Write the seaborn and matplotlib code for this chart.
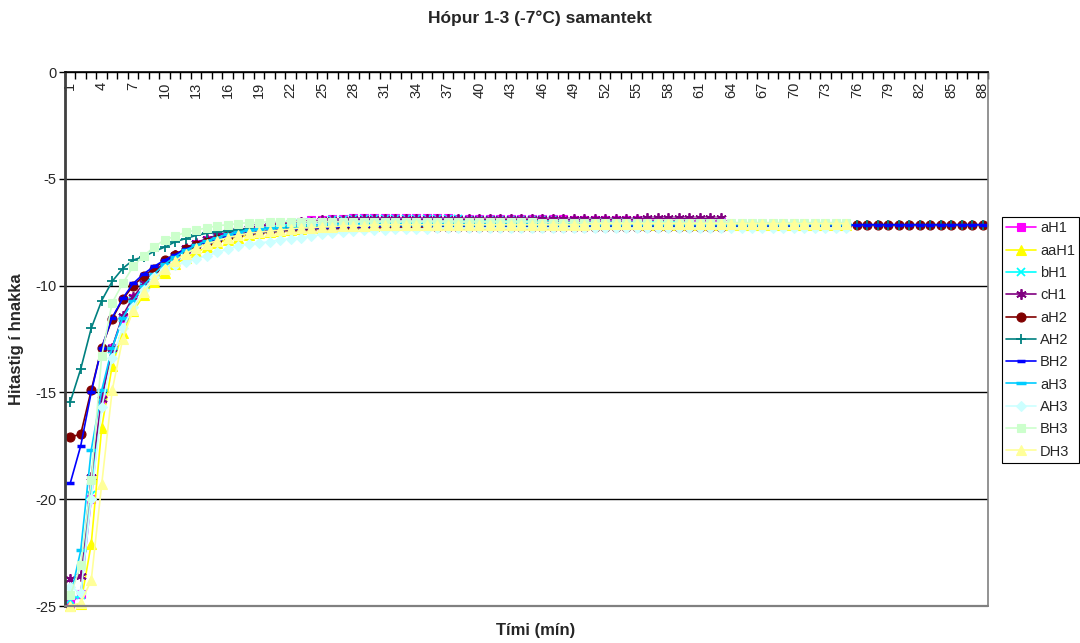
import matplotlib
matplotlib.use("Agg")
import matplotlib.pyplot as plt
from matplotlib.ticker import FixedLocator
import seaborn as sns
import pandas as pd

# Minutes on the category axis
minutes = list(range(1, 89))
x_tick_labels = ["1", "4", "7", "10", "13", "16", "19", "22", "25", "28", "31",
                 "34", "37", "40", "43", "46", "49", "52", "55", "58", "61", "64",
                 "67", "70", "73", "76", "79", "82", "85", "88"]
y_ticks = [0, -5, -10, -15, -20, -25]

series_names = ["aH1", "aaH1", "bH1", "cH1", "aH2", "AH2", "BH2",
                "aH3", "AH3", "BH3", "DH3"]

aH1 = [-24.9, -24.45, -20.0, -15.3, -12.9, -11.5, -10.6, -9.95, -9.4, -8.95,
       -8.6, -8.3, -8.05, -7.85, -7.7, -7.55, -7.45, -7.35, -7.25, -7.2,
       -7.1, -7.05, -7.0, -6.95, -6.95, -6.9, -6.9, -6.85, -6.85, -6.85,
       -6.85, -6.85, -6.85, -6.85, -6.85, -6.85, -6.85, -6.9, -6.9, -6.9,
       -6.9, -6.9, -6.9, -6.9, -6.9, -6.9, -6.9, -6.9, -6.95, -6.95,
       -6.95, -6.95, -6.95, -6.95, -6.95, -6.95, -6.95, -7.0, -7.0, -7.0,
       -7.0, -7.0, -7.0]

aaH1 = [-25.0, -24.9, -22.1, -16.65, -13.75, -12.2, -11.2, -10.45, -9.85, -9.4,
        -9.0, -8.7, -8.45, -8.2, -8.0, -7.85, -7.75, -7.65, -7.55, -7.5,
        -7.45, -7.4, -7.35, -7.3, -7.3, -7.25, -7.25, -7.2, -7.2, -7.2,
        -7.15, -7.15, -7.15, -7.15, -7.15, -7.15, -7.1, -7.1, -7.1, -7.1,
        -7.1, -7.1, -7.1, -7.1, -7.1, -7.1, -7.1, -7.1, -7.1, -7.1,
        -7.1, -7.1, -7.1, -7.1, -7.1, -7.15, -7.15, -7.15, -7.15, -7.15,
        -7.15, -7.15, -7.15, -7.15, -7.15, -7.15, -7.15, -7.15, -7.15, -7.15,
        -7.15, -7.15, -7.15, -7.15, -7.15]

bH1 = [-24.7, -24.5, -19.8, -15.2, -12.95, -11.5, -10.7, -10.0, -9.45, -9.0,
       -8.65, -8.35, -8.1, -7.9, -7.75, -7.6, -7.5, -7.4, -7.3, -7.25,
       -7.15, -7.1, -7.05, -7.0, -7.0, -6.95, -6.95, -6.9, -6.9, -6.9,
       -6.9, -6.9, -6.9, -6.9, -6.9, -6.9, -6.9, -6.9, -6.95, -6.95,
       -6.95, -6.95, -6.95, -6.95, -6.95, -6.95, -6.95, -7.0, -7.0, -7.0,
       -7.0, -7.0, -7.0, -7.0, -7.0, -7.0, -7.0, -7.0, -7.0, -7.05,
       -7.05, -7.05, -7.05]

cH1 = [-23.75, -23.6, -18.95, -15.3, -12.9, -11.4, -10.55, -9.9, -9.35, -8.9,
       -8.55, -8.25, -8.0, -7.8, -7.65, -7.5, -7.4, -7.3, -7.2, -7.15,
       -7.1, -7.05, -7.0, -7.0, -6.95, -6.95, -6.95, -6.9, -6.9, -6.9,
       -6.9, -6.9, -6.9, -6.9, -6.9, -6.9, -6.9, -6.9, -6.9, -6.9,
       -6.9, -6.9, -6.9, -6.9, -6.9, -6.9, -6.9, -6.9, -6.9, -6.9,
       -6.9, -6.9, -6.9, -6.9, -6.9, -6.85, -6.85, -6.85, -6.85, -6.85,
       -6.85, -6.85, -6.85]

aH2 = [-17.1, -16.95, -14.9, -12.9, -11.55, -10.65, -10.0, -9.55, -9.2, -8.8,
       -8.55, -8.3, -8.1, -7.95, -7.8, -7.7, -7.6, -7.55, -7.5, -7.45,
       -7.4, -7.4, -7.35, -7.35, -7.3, -7.3, -7.3, -7.3, -7.25, -7.25,
       -7.25, -7.25, -7.25, -7.25, -7.25, -7.25, -7.25, -7.25, -7.25, -7.25,
       -7.25, -7.25, -7.25, -7.25, -7.25, -7.25, -7.25, -7.25, -7.25, -7.25,
       -7.25, -7.25, -7.25, -7.25, -7.25, -7.25, -7.25, -7.25, -7.25, -7.25,
       -7.25, -7.25, -7.25, -7.2, -7.2, -7.2, -7.2, -7.2, -7.2, -7.2,
       -7.2, -7.2, -7.2, -7.2, -7.2, -7.15, -7.15, -7.15, -7.15, -7.15,
       -7.15, -7.15, -7.15, -7.15, -7.15, -7.15, -7.15, -7.15]

AH2 = [-15.45, -13.9, -12.0, -10.7, -9.8, -9.2, -8.8, -8.65, -8.4, -8.2,
       -7.95, -7.8, -7.65, -7.55, -7.5, -7.45, -7.4, -7.35, -7.35, -7.3,
       -7.3, -7.3, -7.25, -7.25, -7.25, -7.2, -7.2, -7.2, -7.2, -7.2,
       -7.2, -7.2, -7.2, -7.2, -7.2, -7.2, -7.2, -7.2, -7.2, -7.2,
       -7.2, -7.2, -7.2, -7.2, -7.2, -7.2, -7.2, -7.2, -7.2, -7.2,
       -7.2, -7.2, -7.2, -7.2, -7.2, -7.2, -7.2, -7.2, -7.2, -7.2,
       -7.2, -7.2, -7.2, -7.2, -7.2, -7.2, -7.2, -7.2, -7.2, -7.2,
       -7.2, -7.2, -7.2, -7.2, -7.2, -7.15, -7.15, -7.15, -7.15, -7.15,
       -7.15, -7.15, -7.15, -7.15, -7.15, -7.15, -7.15, -7.15]

BH2 = [-19.25, -17.5, -15.0, -12.9, -11.5, -10.6, -9.9, -9.45, -9.1, -8.8,
       -8.55, -8.3, -8.1, -7.95, -7.8, -7.7, -7.6, -7.55, -7.5, -7.45,
       -7.4, -7.35, -7.35, -7.3, -7.3, -7.3, -7.25, -7.25, -7.25, -7.25,
       -7.2, -7.2, -7.2, -7.2, -7.2, -7.2, -7.2, -7.2, -7.2, -7.2,
       -7.2, -7.2, -7.2, -7.2, -7.2, -7.2, -7.2, -7.2, -7.2, -7.2,
       -7.2, -7.2, -7.2, -7.2, -7.2, -7.2, -7.2, -7.2, -7.2, -7.2,
       -7.2, -7.2, -7.2, -7.2, -7.2, -7.2, -7.2, -7.2, -7.2, -7.2,
       -7.2, -7.2, -7.2, -7.2, -7.2, -7.15, -7.15, -7.15, -7.15, -7.15,
       -7.15, -7.15, -7.15, -7.15, -7.15, -7.15, -7.15, -7.15]

aH3 = [-24.6, -22.4, -17.7, -14.9, -12.9, -11.5, -10.7, -10.0, -9.45, -9.0,
       -8.65, -8.35, -8.1, -7.9, -7.75, -7.6, -7.5, -7.4, -7.35, -7.3,
       -7.25, -7.2, -7.2, -7.15, -7.15, -7.1, -7.1, -7.1, -7.1, -7.1,
       -7.1, -7.1, -7.1, -7.1, -7.1, -7.1, -7.1, -7.1, -7.1, -7.1,
       -7.1, -7.1, -7.1, -7.1, -7.1, -7.1, -7.1, -7.1, -7.1, -7.1,
       -7.1, -7.1, -7.1, -7.1, -7.1, -7.1, -7.1, -7.1, -7.1, -7.1,
       -7.1, -7.1, -7.1, -7.1, -7.1, -7.1, -7.1, -7.1, -7.1, -7.1,
       -7.1, -7.1, -7.1, -7.1, -7.1]

AH3 = [-24.1, -24.4, -20.0, -15.7, -13.4, -12.0, -11.0, -10.2, -9.6, -9.2,
       -9.05, -8.9, -8.75, -8.6, -8.45, -8.3, -8.15, -8.05, -8.0, -7.95,
       -7.85, -7.8, -7.75, -7.7, -7.6, -7.55, -7.5, -7.45, -7.4, -7.4,
       -7.4, -7.35, -7.35, -7.35, -7.35, -7.3, -7.3, -7.3, -7.3, -7.3,
       -7.3, -7.3, -7.3, -7.3, -7.3, -7.3, -7.3, -7.3, -7.3, -7.3,
       -7.3, -7.3, -7.3, -7.3, -7.3, -7.3, -7.3, -7.3, -7.3, -7.3,
       -7.3, -7.3, -7.3, -7.3, -7.3, -7.3, -7.3, -7.3, -7.3, -7.3,
       -7.3, -7.3, -7.3, -7.3, -7.3]

BH3 = [-24.5, -23.1, -19.1, -13.3, -10.8, -9.9, -9.1, -8.6, -8.2, -7.85,
       -7.7, -7.5, -7.4, -7.3, -7.2, -7.15, -7.1, -7.05, -7.05, -7.0,
       -7.0, -7.0, -7.0, -7.0, -7.0, -7.0, -7.0, -7.0, -7.0, -7.0,
       -7.0, -7.0, -7.0, -7.0, -7.0, -7.0, -7.0, -7.0, -7.0, -7.0,
       -7.0, -7.0, -7.0, -7.0, -7.0, -7.05, -7.05, -7.05, -7.05, -7.05,
       -7.05, -7.05, -7.05, -7.05, -7.05, -7.05, -7.05, -7.05, -7.05, -7.05,
       -7.05, -7.05, -7.05, -7.05, -7.05, -7.05, -7.05, -7.05, -7.05, -7.05,
       -7.05, -7.05, -7.05, -7.05, -7.05]

DH3 = [-25.0, -24.85, -23.8, -19.3, -14.9, -12.5, -11.15, -10.3, -9.7, -9.2,
       -8.85, -8.5, -8.25, -8.05, -7.9, -7.75, -7.65, -7.55, -7.5, -7.45,
       -7.4, -7.35, -7.3, -7.3, -7.25, -7.25, -7.2, -7.2, -7.2, -7.15,
       -7.15, -7.15, -7.15, -7.15, -7.15, -7.15, -7.15, -7.15, -7.15, -7.15,
       -7.15, -7.15, -7.15, -7.15, -7.15, -7.15, -7.15, -7.15, -7.15, -7.15,
       -7.1, -7.1, -7.1, -7.1, -7.1, -7.1, -7.1, -7.1, -7.1, -7.1,
       -7.1, -7.1, -7.1, -7.1, -7.1, -7.1, -7.1, -7.1, -7.1, -7.1,
       -7.1, -7.1, -7.1, -7.1, -7.1]

series_values = [aH1, aaH1, bH1, cH1, aH2, AH2, BH2, aH3, AH3, BH3, DH3]

# Line colour and marker for every series
series_style = {
    "aH1": dict(color="#FF00FF", marker="s", markersize=5.5, markeredgewidth=0.8),
    "aaH1": dict(color="#FFFF00", marker="^", markersize=6.5, markeredgewidth=0.8),
    "bH1": dict(color="#00FFFF", marker="x", markersize=6, markeredgewidth=1.3),
    "cH1": dict(color="#800080", marker=(6, 2, 0), markersize=7.5, markeredgewidth=1.3),
    "aH2": dict(color="#800000", marker="o", markersize=6.5, markeredgewidth=0.8),
    "AH2": dict(color="#008080", marker="+", markersize=7.5, markeredgewidth=1.3),
    "BH2": dict(color="#0000FF", marker="_", markersize=6, markeredgewidth=2.5),
    "aH3": dict(color="#00CCFF", marker="_", markersize=7, markeredgewidth=2.5),
    "AH3": dict(color="#CCFFFF", marker="D", markersize=5, markeredgewidth=0.8),
    "BH3": dict(color="#CCFFCC", marker="s", markersize=6, markeredgewidth=0.8),
    "DH3": dict(color="#FFFF99", marker="^", markersize=7, markeredgewidth=0.8),
}

sns.set_theme(style="white")
plt.rcParams["font.family"] = ["Liberation Sans", "DejaVu Sans"]
plt.rcParams["axes.unicode_minus"] = False

fig = plt.figure(figsize=(10.8, 6.43), dpi=100)
ax = fig.add_axes([65 / 1080, 37 / 643, 923 / 1080, 534 / 643])

handles = []
for name, vals in zip(series_names, series_values):
    df = pd.DataFrame({"minute": minutes[:len(vals)], "temp": vals})
    st = series_style[name]
    n_before = len(ax.lines)
    sns.lineplot(data=df, x="minute", y="temp", ax=ax, estimator=None,
                 errorbar=None, sort=False, legend=False,
                 color=st["color"], marker=st["marker"],
                 markersize=st["markersize"], markeredgewidth=st["markeredgewidth"],
                 markeredgecolor=st["color"], markerfacecolor=st["color"],
                 linewidth=1.2, clip_on=False)
    handles.append(ax.lines[n_before])

ax.set_xlim(0.5, 88.5)
ax.set_ylim(-25, 0)

# Category axis sits on y = 0, with its labels hanging into the plot area
ax.spines["bottom"].set_position(("data", 0))
ax.spines["bottom"].set_color("black")
ax.spines["bottom"].set_linewidth(1.2)
ax.spines["top"].set_visible(False)
ax.spines["left"].set_color("#404040")
ax.spines["left"].set_linewidth(2)
ax.spines["right"].set_color("#808080")
ax.spines["right"].set_linewidth(1.2)

label_pos = [int(t) for t in x_tick_labels]
ax.xaxis.set_major_locator(FixedLocator(label_pos))
ax.set_xticklabels(x_tick_labels, rotation=90, fontsize=10.5)
ax.xaxis.set_minor_locator(FixedLocator([m + 0.5 for m in range(0, 89)]))
ax.tick_params(axis="x", which="major", length=0, pad=7, bottom=True, top=False)
ax.tick_params(axis="x", which="minor", length=5, width=1, color="black",
               direction="out", bottom=True, top=False)

ax.set_yticks(y_ticks)
ax.set_yticklabels([str(v) for v in y_ticks], fontsize=10.5)
ax.tick_params(axis="y", which="major", length=4, width=1, color="black",
               direction="out", left=True, pad=2)

ax.grid(axis="y", color="black", linewidth=1)
ax.grid(axis="x", visible=False)
ax.set_axisbelow(True)
ax.axhline(-25, color="#808080", linewidth=1.6, zorder=5, clip_on=False)

ax.set_xlabel("")
ax.set_ylabel("")

fig.text(540 / 1080, 1 - 18 / 643, "Hópur 1-3 (-7°C) samantekt",
         ha="center", va="center", fontsize=12.5, fontweight="bold")
fig.text(536 / 1080, 1 - 631 / 643, "Tími (mín)",
         ha="center", va="center", fontsize=12, fontweight="bold")
fig.text(17 / 1080, 1 - 339 / 643, "Hitastig í hnakka", rotation=90,
         ha="center", va="center", fontsize=12, fontweight="bold")

leg = fig.legend(handles, series_names, loc="upper left",
                 bbox_to_anchor=(1002 / 1080, 1 - 217 / 643),
                 frameon=True, fancybox=False, edgecolor="black", framealpha=1,
                 fontsize=10.5, handlelength=2.0, handletextpad=0.3,
                 labelspacing=0.57, borderpad=0.3, borderaxespad=0)
leg.get_frame().set_linewidth(0.8)

fig.savefig("out.png", dpi=100)
